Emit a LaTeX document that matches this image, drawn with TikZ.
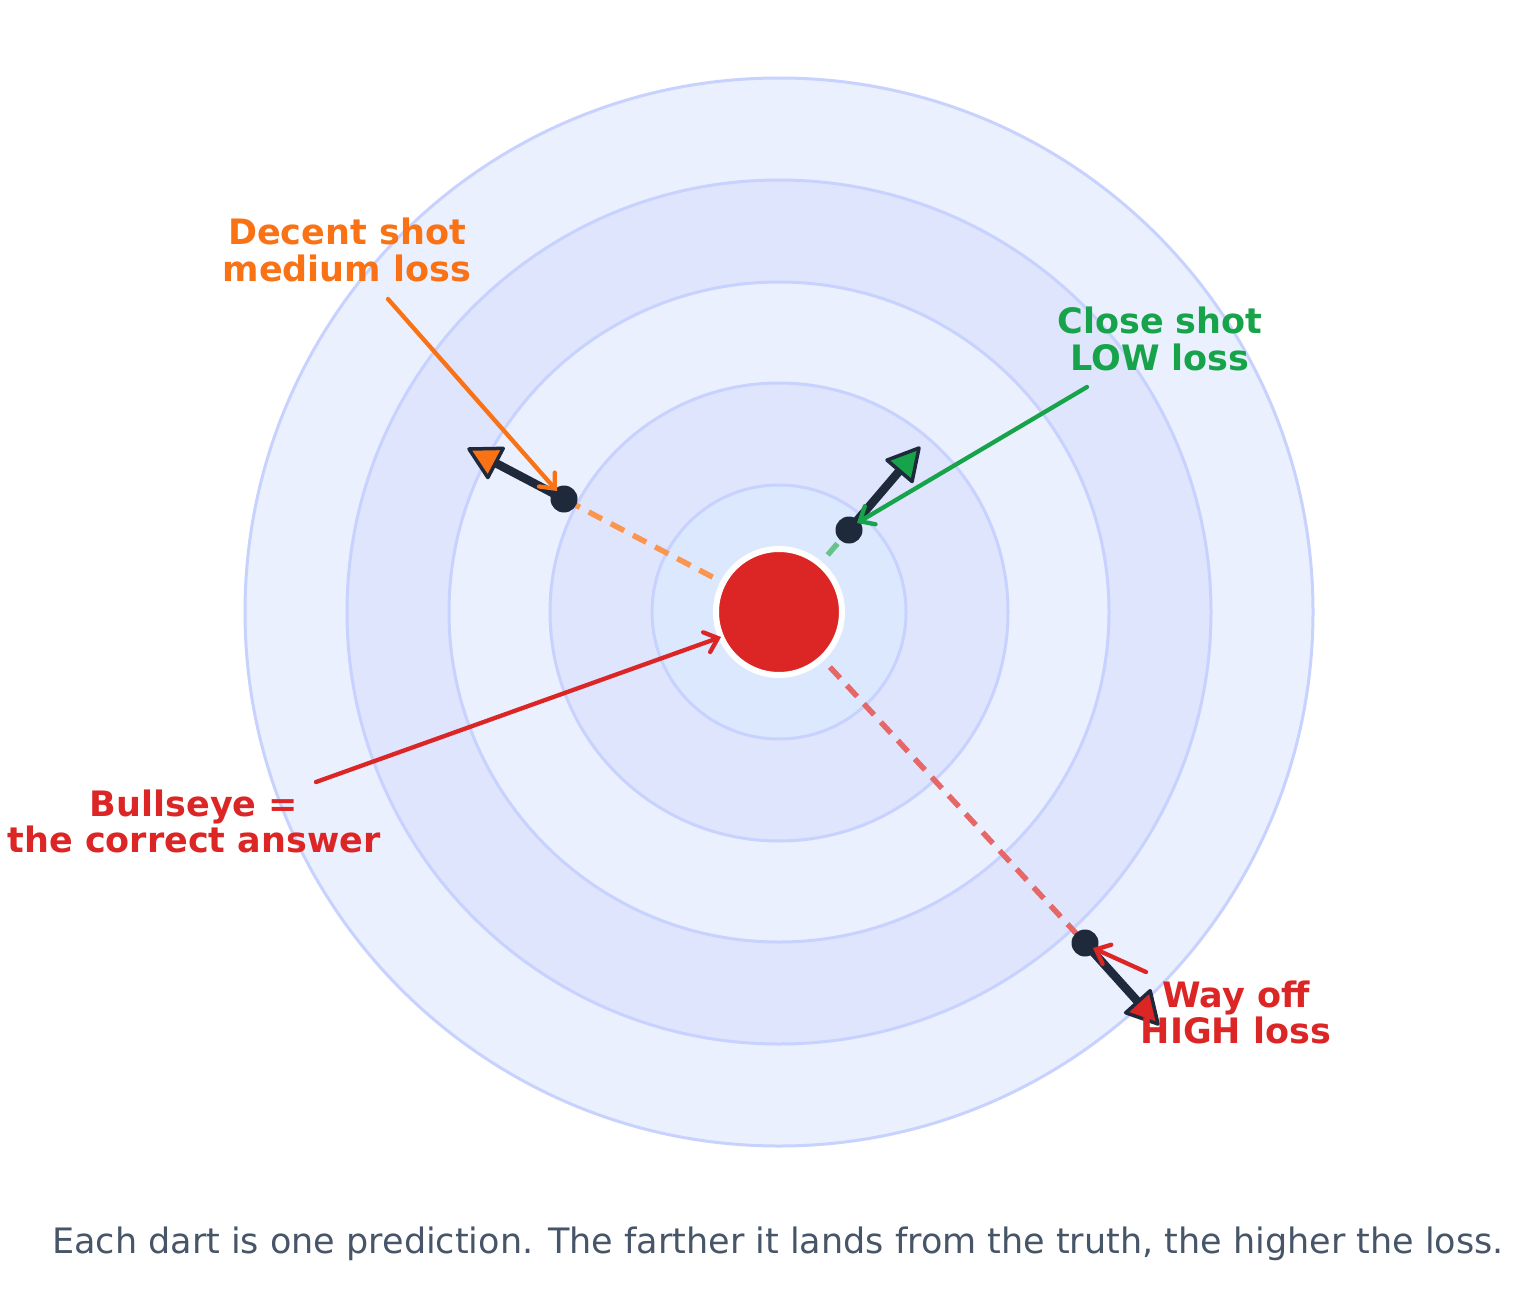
\documentclass[tikz,border=0pt]{standalone}
\usepackage{fontspec}
\setmainfont{DejaVu Sans}
\usetikzlibrary{arrows.meta,calc}
\definecolor{ringstroke}{HTML}{C7D2FE}
\definecolor{ringA}{HTML}{EBF0FE}
\definecolor{ringB}{HTML}{DEE5FD}
\definecolor{ringC}{HTML}{DBE8FE}
\definecolor{dartdark}{HTML}{1E293B}
\definecolor{cOrange}{HTML}{F97316}
\definecolor{cGreen}{HTML}{16A34A}
\definecolor{cRed}{HTML}{DC2626}
\definecolor{capgray}{HTML}{475569}
\tikzset{
  ring/.style={circle, draw=ringstroke, line width=3pt, inner sep=0pt, outer sep=0pt},
  dashline/.style={line width=5.5pt, dash pattern=on 15pt off 10pt},
  dartline/.style={draw=dartdark, line width=8.5pt},
  darttip/.style={draw=dartdark, line width=3.5pt, line join=round},
  dartdot/.style={circle, fill=dartdark, minimum size=27pt, inner sep=0pt},
  annot/.style={line width=4.3pt, line cap=round, -{Straight Barb[length=12pt,width=21pt,line cap=round]}},
  lbl/.style={font=\fontsize{35}{41}\selectfont\bfseries, anchor=base, inner sep=0pt},
}
\begin{document}
\begin{tikzpicture}[x=1pt,y=-1pt]
\fill[white] (0,0) rectangle (1518,1306);
\useasboundingbox (0,0) rectangle (1518,1306);
\coordinate (C) at (779,612);
% rings
\node[ring, fill=ringA, minimum size=1068pt] (r1) at (C) {};
\node[ring, fill=ringB, minimum size=864pt] (r2) at (C) {};
\node[ring, fill=ringA, minimum size=660pt] (r3) at (C) {};
\node[ring, fill=ringB, minimum size=458pt] (r4) at (C) {};
\node[ring, fill=ringC, minimum size=254pt] (r5) at (C) {};
% dart positions
\coordinate (pO) at (564,499);
\coordinate (pG) at (849,530);
\coordinate (pR) at (1085,943);
\coordinate (tO) at (469,449);
\coordinate (tG) at (919,448);
\coordinate (tR) at (1158,1024);
\coordinate (bO) at ($(tO)!30pt!(pO)$);
\coordinate (bG) at ($(tG)!30pt!(pG)$);
\coordinate (bR) at ($(tR)!30pt!(pR)$);
% dashed lines
\draw[dashline, draw=cOrange!75] (C) -- (pO);
\draw[dashline, draw=cGreen!65] (C) -- (pG);
\draw[dashline, draw=cRed!70] (C) -- (pR);
% bullseye
\node[circle, fill=cRed, draw=white, line width=6pt, minimum size=126pt, inner sep=0pt] (bull) at (C) {};
% darts
\draw[dartline] (pO) -- (bO);
\draw[dartline] (pG) -- (bG);
\draw[dartline] (pR) -- (bR);
\filldraw[darttip, fill=cOrange] (tO) -- ($(bO)!16.5pt!90:(tO)$) -- ($(bO)!16.5pt!-90:(tO)$) -- cycle;
\filldraw[darttip, fill=cGreen] (tG) -- ($(bG)!16.5pt!90:(tG)$) -- ($(bG)!16.5pt!-90:(tG)$) -- cycle;
\filldraw[darttip, fill=cRed] (tR) -- ($(bR)!16.5pt!90:(tR)$) -- ($(bR)!16.5pt!-90:(tR)$) -- cycle;
\node[dartdot] (dO) at (pO) {};
\node[dartdot] (dG) at (pG) {};
\node[dartdot] (dR) at (pR) {};
% labels
\node[lbl, text=cOrange] (lO1) at (347,244) {Decent shot};
\node[lbl, text=cOrange] (lO2) at (347,281) {medium loss};
\node[lbl, text=cGreen] (lG1) at (1160,333) {Close shot};
\node[lbl, text=cGreen] (lG2) at (1160,370) {LOW loss};
\node[lbl, text=cRed] (lB1) at (194,816) {Bullseye =};
\node[lbl, text=cRed] (lB2) at (194,852) {the correct answer};
\node[lbl, text=cRed] (lR1) at (1236,1007) {Way off};
\node[lbl, text=cRed] (lR2) at (1236,1043) {HIGH loss};
% annotation arrows
\coordinate (aO) at (388,299);
\coordinate (eO) at (557,491);
\coordinate (aG) at (1087,387);
\coordinate (eG) at (857,523);
\coordinate (aB) at (316,782);
\coordinate (eB) at (721,637);
\coordinate (aR) at (1146,972);
\coordinate (eR) at (1093,948);
\draw[annot, draw=cOrange] (aO) -- (eO);
\draw[annot, draw=cGreen] (aG) -- (eG);
\draw[annot, draw=cRed] (aB) -- (eB);
\draw[annot, draw=cRed] (aR) -- (eR);
% caption
\node[font=\fontsize{35}{41}\selectfont, text=capgray, anchor=base, inner sep=0pt] (cap) at (778,1253) {Each dart is one prediction. The farther it lands from the truth, the higher the loss.};
\end{tikzpicture}
\end{document}
